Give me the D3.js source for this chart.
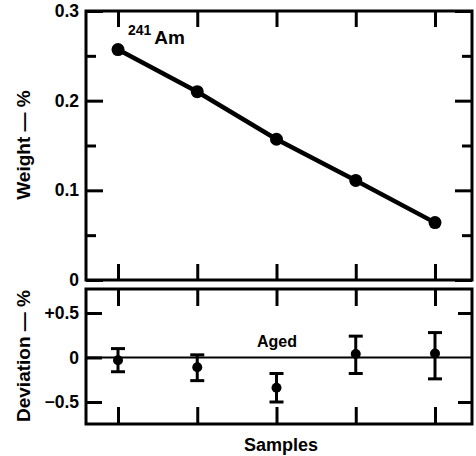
<!DOCTYPE html>
<html>
<head>
<meta charset="utf-8">
<script src="https://cdn.jsdelivr.net/npm/d3@7"></script>
<style>
  body { margin: 0; background: #fff; }
  text { font-family: "Liberation Sans", Arial, sans-serif; font-weight: bold; fill: #000; }
</style>
</head>
<body>
<svg id="chart" width="476" height="456"></svg>
<script>
// values
var samples = [1, 2, 3, 4, 5];
var weight = [0.257, 0.210, 0.157, 0.111, 0.064];
var deviation = [-0.03, -0.11, -0.34, 0.04, 0.045];
var devLow = [-0.16, -0.26, -0.50, -0.18, -0.24];
var devHigh = [0.10, 0.03, -0.18, 0.24, 0.28];
var weightTicks = [0, 0.1, 0.2, 0.3];
var weightMinor = [0.05, 0.15, 0.25];
var weightLabels = ["0", "0.1", "0.2", "0.3"];
var devTicks = [0.5, 0, -0.5];
var devLabels = ["+0.5", "0", "\u22120.5"];

var svg = d3.select("#chart");
var left = 86, right = 472;
var top1 = 11, bottom1 = 280, top2 = 289, bottom2 = 424;

var x = d3.scaleLinear().domain([1, 5]).range([118, 435]);
var yW = d3.scaleLinear().domain([0, 0.3]).range([bottom1, top1]);
var yD = d3.scaleLinear().domain([-0.5, 0.5]).range([402, 313]);

function styleAxis(g, fontSize) {
  g.select(".domain").remove();
  g.selectAll(".tick line").attr("stroke", "#000").attr("stroke-width", 3);
  g.selectAll(".tick text")
      .style("font-size", fontSize + "px")
      .attr("fill", "#000");
}

function drawFrame(y0, y1) {
  svg.append("rect")
      .attr("x", left)
      .attr("y", y0)
      .attr("width", right - left)
      .attr("height", y1 - y0)
      .attr("fill", "none")
      .attr("stroke", "#000")
      .attr("stroke-width", 3);
}

function sampleTicks(y0, y1, len) {
  svg.append("g")
      .attr("transform", "translate(0," + y0 + ")")
      .call(d3.axisTop(x).tickValues(samples).tickSize(-len).tickFormat(""))
      .call(g => styleAxis(g, 0));
  svg.append("g")
      .attr("transform", "translate(0," + y1 + ")")
      .call(d3.axisBottom(x).tickValues(samples).tickSize(-len).tickFormat(""))
      .call(g => styleAxis(g, 0));
}

// upper panel: weight
drawFrame(top1, bottom1);
sampleTicks(top1, bottom1, 16);

svg.append("g")
    .attr("transform", "translate(" + left + ",0)")
    .call(d3.axisLeft(yW).tickValues(weightTicks).tickSize(-17).tickPadding(7)
      .tickFormat((d, i) => weightLabels[i]))
    .call(g => styleAxis(g, 17.5));
svg.append("g")
    .attr("transform", "translate(" + left + ",0)")
    .call(d3.axisLeft(yW).tickValues(weightMinor).tickSize(-10).tickFormat(""))
    .call(g => styleAxis(g, 0));
svg.append("g")
    .attr("transform", "translate(" + right + ",0)")
    .call(d3.axisRight(yW).tickValues(weightTicks).tickSize(-17).tickFormat(""))
    .call(g => styleAxis(g, 0));
svg.append("g")
    .attr("transform", "translate(" + right + ",0)")
    .call(d3.axisRight(yW).tickValues(weightMinor).tickSize(-10).tickFormat(""))
    .call(g => styleAxis(g, 0));

var line = d3.line()
    .x((d, i) => x(samples[i]))
    .y(d => yW(d));

svg.append("path")
    .datum(weight)
    .attr("d", line)
    .attr("fill", "none")
    .attr("stroke", "#000")
    .attr("stroke-width", 4.5);

svg.selectAll(".wpt")
    .data(weight)
  .enter()
  .append("circle")
    .classed("wpt", true)
    .attr("cx", (d, i) => x(samples[i]))
    .attr("cy", d => yW(d))
    .attr("r", 6.5)
    .attr("fill", "#000");

svg.append("text")
    .attr("x", 128)
    .attr("y", 44)
  .call(t => t.append("tspan")
      .attr("dy", -9)
      .style("font-size", "14px")
      .text("241"))
  .call(t => t.append("tspan")
      .attr("dx", 3)
      .attr("dy", 9)
      .style("font-size", "19px")
      .text("Am"));

// lower panel: deviation
drawFrame(top2, bottom2);
sampleTicks(top2, bottom2, 17);

svg.append("line")
    .attr("x1", left)
    .attr("x2", right)
    .attr("y1", yD(0))
    .attr("y2", yD(0))
    .attr("stroke", "#000")
    .attr("stroke-width", 2);

svg.append("g")
    .attr("transform", "translate(" + left + ",0)")
    .call(d3.axisLeft(yD).tickValues(devTicks).tickSize(-16).tickPadding(7)
      .tickFormat((d, i) => devLabels[i]))
    .call(g => styleAxis(g, 17.5));
svg.append("g")
    .attr("transform", "translate(" + right + ",0)")
    .call(d3.axisRight(yD).tickValues([0.5, -0.5]).tickSize(-14).tickFormat(""))
    .call(g => styleAxis(g, 0));

var bars = svg.selectAll(".err")
    .data(deviation)
  .enter()
  .append("g")
    .classed("err", true)
    .attr("transform", (d, i) => "translate(" + x(samples[i]) + ",0)");

bars.append("line")
    .attr("y1", (d, i) => yD(devLow[i]))
    .attr("y2", (d, i) => yD(devHigh[i]))
    .attr("stroke", "#000")
    .attr("stroke-width", 3);
bars.append("line")
    .attr("x1", -7).attr("x2", 7)
    .attr("y1", (d, i) => yD(devHigh[i]))
    .attr("y2", (d, i) => yD(devHigh[i]))
    .attr("stroke", "#000")
    .attr("stroke-width", 3);
bars.append("line")
    .attr("x1", -7).attr("x2", 7)
    .attr("y1", (d, i) => yD(devLow[i]))
    .attr("y2", (d, i) => yD(devLow[i]))
    .attr("stroke", "#000")
    .attr("stroke-width", 3);
bars.append("circle")
    .attr("cy", d => yD(d))
    .attr("r", 5)
    .attr("fill", "#000");

svg.append("text")
    .attr("x", 277)
    .attr("y", 347)
    .style("font-size", "16px")
    .style("text-anchor", "middle")
    .text("Aged");

// axis titles
svg.append("text")
    .attr("transform", "translate(23,145) rotate(-90)")
    .attr("dy", "0.35em")
    .style("font-size", "19px")
    .style("text-anchor", "middle")
    .text("Weight \u2014 %");
svg.append("text")
    .attr("transform", "translate(23,356) rotate(-90)")
    .attr("dy", "0.35em")
    .style("font-size", "19px")
    .style("text-anchor", "middle")
    .text("Deviation \u2014 %");
svg.append("text")
    .attr("x", 281)
    .attr("y", 451)
    .style("font-size", "18px")
    .style("text-anchor", "middle")
    .text("Samples");
</script>
</body>
</html>
